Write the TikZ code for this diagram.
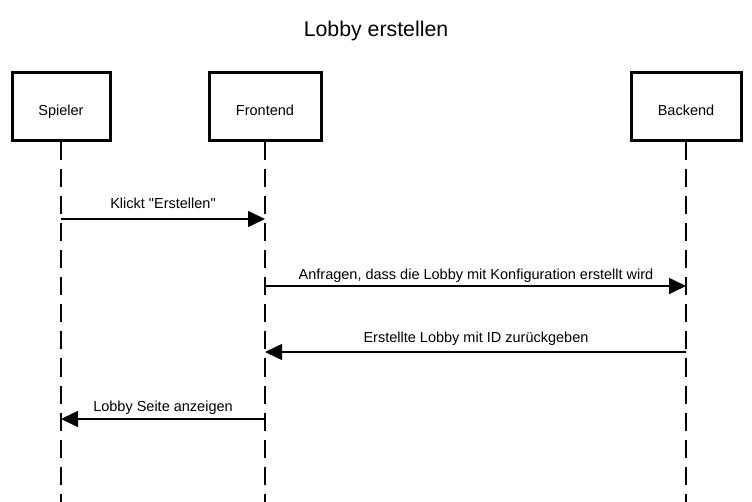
\documentclass[tikz,border=0pt]{standalone}
\usepackage{fontspec}
\setmainfont{Liberation Sans}[Ligatures=ResetAll]
\usetikzlibrary{arrows.meta}
\newcommand\straightdq{\XeTeXglyph\XeTeXcharglyph"22\relax}
\begin{document}
\begin{tikzpicture}[x=1pt,y=-1pt,
  actor/.style={draw,line width=3pt,minimum width=108pt,minimum height=68pt,inner sep=0pt,text height=18pt,text depth=0pt,font=\fontsize{14.5}{16}\selectfont},
  lifeline/.style={line width=1.8pt,dash pattern=on 18pt off 9pt},
  msg/.style={line width=1.6pt,-{Triangle[length=17pt,width=16pt]}},
  lbl/.style={font=\fontsize{14.5}{16}\selectfont,inner sep=0pt,anchor=base}]
\useasboundingbox (0,0) rectangle (752,502);
\node[anchor=base] (title) at (376,37) {\fontsize{21.3}{24}\selectfont Lobby erstellen};
\node[actor,minimum width=98pt] (sp) at (61,107) {Spieler};
\node[actor,minimum width=112pt] (fe) at (265,107) {Frontend};
\node[actor,minimum width=110pt] (be) at (686,107) {Backend};
\coordinate (spE) at (61,502);
\coordinate (feE) at (265,502);
\coordinate (beE) at (686,502);
\draw[lifeline] (sp.south) -- (spE);
\draw[lifeline] (fe.south) -- (feE);
\draw[lifeline] (be.south) -- (beE);
\coordinate (a1) at (61,219); \coordinate (b1) at (265,219);
\coordinate (a2) at (265,286); \coordinate (b2) at (686,286);
\coordinate (a3) at (686,352); \coordinate (b3) at (265,352);
\coordinate (a4) at (265,419); \coordinate (b4) at (61,419);
\draw[msg] (a1) -- (b1);
\draw[msg] (a2) -- (b2);
\draw[msg] (a3) -- (b3);
\draw[msg] (a4) -- (b4);
\node[lbl] (l1) at (163,209) {Klickt \straightdq Erstellen\straightdq};
\node[lbl] (l2) at (476,280) {Anfragen, dass die Lobby mit Konfiguration erstellt wird};
\node[lbl] (l3) at (476,343) {Erstellte Lobby mit ID zurückgeben};
\node[lbl] (l4) at (163,411) {Lobby Seite anzeigen};
\end{tikzpicture}
\end{document}
